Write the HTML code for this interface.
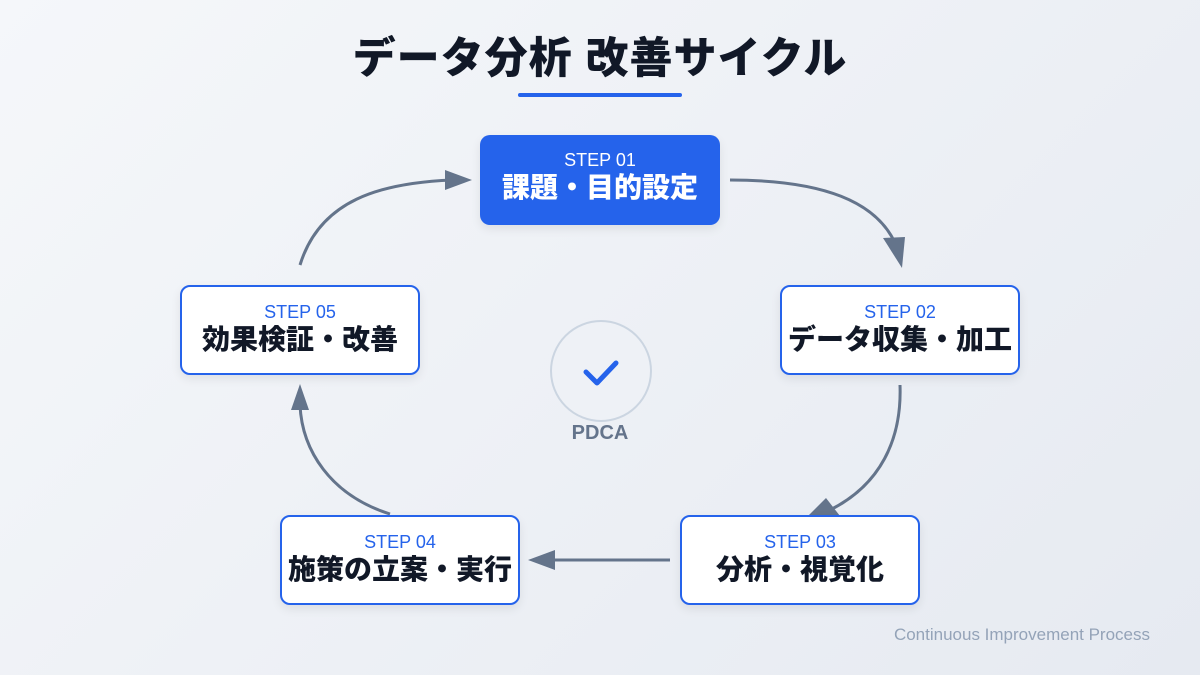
<!DOCTYPE html>
<html><head><meta charset="utf-8"><style>
body{margin:0;width:1200px;height:675px;overflow:hidden;background:linear-gradient(135deg,#f5f7fa,#e6eaf1);font-family:"Liberation Sans","Noto Sans CJK JP",sans-serif;position:relative}
.t{position:absolute;left:0;width:1200px;top:24px;text-align:center;font-size:43px;font-weight:900;color:#111827;letter-spacing:1px}
.ul{position:absolute;left:518px;top:93px;width:164px;height:4px;background:#2563eb;border-radius:2px}
.b{position:absolute;width:236px;height:86px;border:2px solid #2563eb;border-radius:10px;background:#fff;text-align:center;box-shadow:0 4px 10px rgba(0,0,0,.08)}
.b .s{margin-top:14px;font-size:18px;color:#2563eb;line-height:22px}
.b .n{font-size:28px;font-weight:900;color:#111827;line-height:34px;white-space:nowrap}
.b.a{background:#2563eb;border-color:#2563eb}
.b.a .s,.b.a .n{color:#fff}
.c{position:absolute;left:550px;top:320px;width:98px;height:98px;border:2px solid #cbd5e1;border-radius:50%;background:#eef1f6}
.p{position:absolute;left:550px;top:422px;width:100px;text-align:center;font-size:20px;font-weight:bold;color:#64748b}
.f{position:absolute;right:50px;top:625px;font-size:17px;color:#94a3b8}
</style></head><body>
<div class="t">データ分析 改善サイクル</div>
<div class="ul"></div>
<svg width="1200" height="675" style="position:absolute;left:0;top:0">
<g fill="none" stroke="#64748b" stroke-width="3">
<path d="M730,180 C820,180 880,200 898,250"/>
<path d="M900,385 C902,440 880,485 830,510"/>
<path d="M670,560 L545,560"/>
<path d="M390,514 C330,495 302,450 300,405"/>
<path d="M300,265 C320,200 380,183 452,180"/>
</g>
<g fill="#64748b">
<path d="M883,238 L905,237 L902,268z"/>
<path d="M808,516 L840,516 L826,498z"/>
<path d="M528,560 L555,550 L555,570z"/>
<path d="M300,384 L291,410 L309,410z"/>
<path d="M472,180 L445,170 L445,190z"/>
</g>
</svg>
<div class="b a" style="left:480px;top:135px;height:90px;width:240px;border:none"><div class="s" style="margin-top:14px">STEP 01</div><div class="n">課題・目的設定</div></div>
<div class="b" style="left:780px;top:285px"><div class="s">STEP 02</div><div class="n">データ収集・加工</div></div>
<div class="b" style="left:680px;top:515px"><div class="s">STEP 03</div><div class="n">分析・視覚化</div></div>
<div class="b" style="left:280px;top:515px"><div class="s">STEP 04</div><div class="n">施策の立案・実行</div></div>
<div class="b" style="left:180px;top:285px"><div class="s">STEP 05</div><div class="n">効果検証・改善</div></div>
<div class="c"><svg width="98" height="98"><path d="M34,50 L45,61 L64,41" fill="none" stroke="#2563eb" stroke-width="5" stroke-linecap="round" stroke-linejoin="round"/></svg></div>
<div class="p">PDCA</div>
<div class="f">Continuous Improvement Process</div>
</body></html>
